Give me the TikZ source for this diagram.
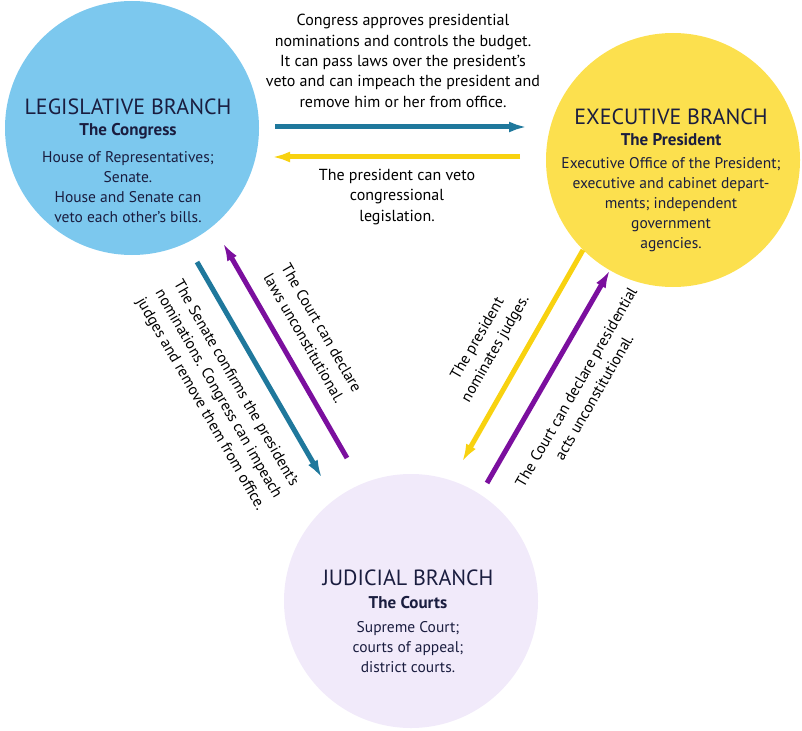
\documentclass[tikz,border=0pt]{standalone}
\usepackage{fontspec}
\setmainfont{PT Sans}
\usetikzlibrary{arrows.meta}
\definecolor{legblue}{HTML}{7CC8EE}
\definecolor{exeyellow}{HTML}{FCE04E}
\definecolor{judlilac}{HTML}{F1EAFA}
\definecolor{inkblue}{HTML}{1A1D3F}
\definecolor{arrteal}{HTML}{1F789C}
\definecolor{arryellow}{HTML}{F8D210}
\definecolor{arrpurple}{HTML}{7B0F9E}

\begin{document}
\begin{tikzpicture}[
		x=1pt, y=-1pt,
		branch/.style={circle, minimum size=254pt, inner sep=0pt},
		btitle/.style={font=\fontsize{22}{24}\selectfont, text=inkblue},
		bsub/.style={font=\fontsize{17}{20}\selectfont\bfseries, text=inkblue},
		bbody/.style={font=\fontsize{15.5}{20}\selectfont, text=inkblue, align=center},
		check/.style={font=\fontsize{16}{20.4}\selectfont, text=black, align=center},
		slanted check/.style={check, font=\fontsize{15.5}{20.4}\selectfont},
		power/.style={line width=5pt, -{Latex[length=18pt,width=11pt]}}
	]
	\useasboundingbox (0,0) rectangle (802,730);

	\node[branch, fill=legblue] (leg) at (132,128) {};
	\node[branch, fill=exeyellow] (exe) at (673,160) {};
	\node[branch, fill=judlilac] (jud) at (411,601) {};

	\node[btitle] (legtitle) at (128,107) {LEGISLATIVE BRANCH};
	\node[bsub] (legsub) at (128,131) {The Congress};
	\node[bbody] (legbody) at (128,187) {House of Representatives;\\ Senate.\\ House and Senate can\\ veto each other's bills.};

	\node[btitle] (exetitle) at (671,117) {EXECUTIVE BRANCH};
	\node[bsub] (exesub) at (671,140) {The President};
	\node[bbody] (exebody) at (671,205) {Executive Office of the President;\\ executive and cabinet depart-\\ ments; independent\\ government\\ agencies.};

	\node[btitle] (judtitle) at (408,578) {JUDICIAL BRANCH};
	\node[bsub] (judsub) at (408,603) {The Courts};
	\node[bbody] (judbody) at (408,647) {Supreme Court;\\ courts of appeal;\\ district courts.};

	\coordinate (lex-a) at (275,127);
	\coordinate (lex-b) at (527,127);
	\coordinate (exl-a) at (520,157);
	\coordinate (exl-b) at (272,157);
	\coordinate (jul-a) at (347,458);
	\coordinate (jul-b) at (223,243);
	\coordinate (lju-a) at (197,262);
	\coordinate (lju-b) at (322,478);
	\coordinate (exj-a) at (583,250);
	\coordinate (exj-b) at (462,462);
	\coordinate (jex-a) at (487,483);
	\coordinate (jex-b) at (610,270);

	\draw[power, arrteal] (lex-a) -- (lex-b);
	\draw[power, arryellow] (exl-a) -- (exl-b);
	\draw[power, arrpurple] (jul-a) -- (jul-b);
	\draw[power, arrteal] (lju-a) -- (lju-b);
	\draw[power, arryellow] (exj-a) -- (exj-b);
	\draw[power, arrpurple] (jex-a) -- (jex-b);

	\node[check] (congress) at (403,61) {Congress approves presidential\\ nominations and controls the budget.\\ It can pass laws over the president's\\ veto and can impeach the president and\\ remove him or her from office.};
	\node[check] (veto) at (397,197) {The president can veto\\ congressional\\ legislation.};
	\node[slanted check, rotate=-60] (declarelaws) at (313,333) {The Court can declare\\ laws unconstitutional.};
	\node[slanted check, rotate=-60] (senate) at (218,394) {The Senate confirms the president's\\ nominations. Congress can impeach\\ judges and remove them from office.};
	\node[slanted check, rotate=60] (nominate) at (487,344) {The president\\ nominates judges.};
	\node[slanted check, rotate=60] (declareacts) at (585,392) {The Court can declare presidential\\ acts unconstitutional.};
\end{tikzpicture}
\end{document}
